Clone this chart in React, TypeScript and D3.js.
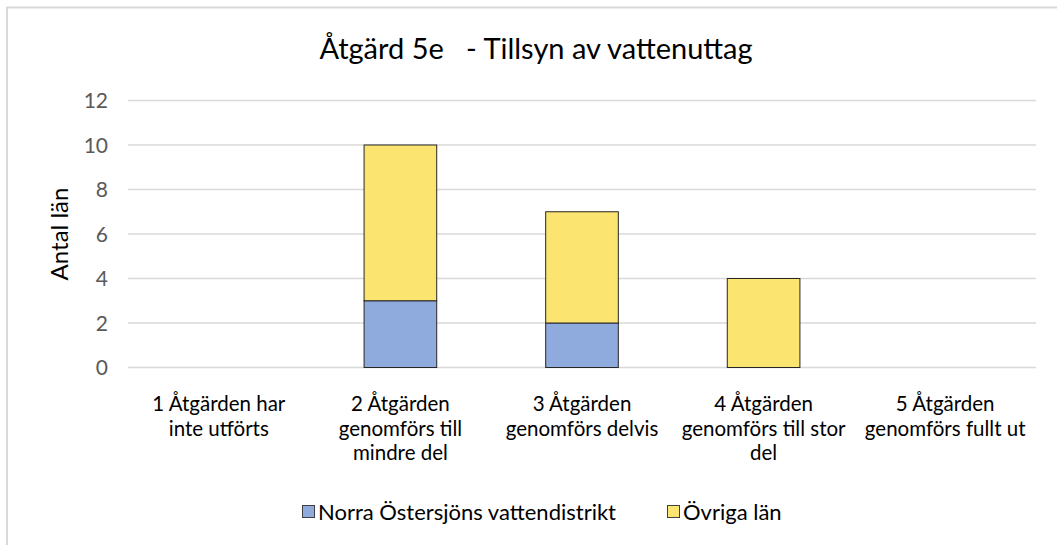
import React from "react";
import * as d3 from "d3";

const title = "Åtgärd 5e   - Tillsyn av vattenuttag";
const yAxisTitle = "Antal län";
const categories = [
  "1 Åtgärden har inte utförts",
  "2 Åtgärden genomförs till mindre del",
  "3 Åtgärden genomförs delvis",
  "4 Åtgärden genomförs till stor del",
  "5 Åtgärden genomförs fullt ut",
];
const categoryLines = [
  ["1 Åtgärden har", "inte utförts"],
  ["2 Åtgärden", "genomförs till", "mindre del"],
  ["3 Åtgärden", "genomförs delvis"],
  ["4 Åtgärden", "genomförs till stor", "del"],
  ["5 Åtgärden", "genomförs fullt ut"],
];
const seriesNames = ["Norra Östersjöns vattendistrikt", "Övriga län"];
const norra = [0, 3, 2, 0, 0];
const ovriga = [0, 7, 5, 4, 0];
const yTicks = [0, 2, 4, 6, 8, 10, 12];
const colors = ["#8FAADC", "#FBE470"];

const W = 1057;
const H = 545;
const FONT = "Lato, 'Noto Sans', sans-serif";

export default function App() {
  const x = d3
    .scaleBand<string>()
    .domain(categories)
    .range([128, 1036])
    .paddingInner(0.6)
    .paddingOuter(0.3);
  const y = d3.scaleLinear().domain([0, 12]).range([367.5, 100.5]);

  const rows = categories.map((c, i) => ({ cat: c, norra: norra[i], ovriga: ovriga[i] }));
  const stacked = d3.stack<any>().keys(["norra", "ovriga"])(rows);

  return (
    <div style={{ position: "absolute", left: 0, top: 0 }}>
      <svg width={W} height={H} style={{ display: "block" }}>
        <rect x={0} y={0} width={W} height={H} fill="#ffffff" />
        <line x1={6} y1={7.5} x2={W} y2={7.5} stroke="#d9d9d9" strokeWidth={2} />
        <line x1={7} y1={7} x2={7} y2={H} stroke="#d9d9d9" strokeWidth={2} />
        <text
          x={536}
          y={59}
          textAnchor="middle"
          fontFamily={FONT}
          fontSize={29}
          fill="#000000"
          style={{ whiteSpace: "pre" }}
        >
          {title}
        </text>
        {yTicks.map((t) => (
          <g key={t}>
            <line x1={128} x2={1036} y1={y(t)} y2={y(t)} stroke="#d9d9d9" strokeWidth={1.5} />
            <text
              x={108}
              y={y(t) + 7.5}
              textAnchor="end"
              fontFamily={FONT}
              fontSize={21}
              fill="#595959"
            >
              {t}
            </text>
          </g>
        ))}
        <text
          transform={`translate(68,234) rotate(-90)`}
          textAnchor="middle"
          fontFamily={FONT}
          fontSize={24}
          fill="#000000"
        >
          {yAxisTitle}
        </text>
        {stacked.map((s, si) =>
          s.map((d, i) => {
            const v = d[1] - d[0];
            if (v <= 0) return null;
            return (
              <rect
                key={`${si}-${i}`}
                x={x(categories[i])!}
                width={x.bandwidth()}
                y={y(d[1])}
                height={y(d[0]) - y(d[1])}
                fill={colors[si]}
                stroke="#262626"
                strokeWidth={1}
              />
            );
          })
        )}
        {categoryLines.map((lines, i) =>
          lines.map((l, j) => (
            <text
              key={`${i}-${j}`}
              x={x(categories[i])! + x.bandwidth() / 2}
              y={411 + j * 24.6}
              textAnchor="middle"
              fontFamily={FONT}
              fontSize={20.5}
              fill="#000000"
            >
              {l}
            </text>
          ))
        )}
        <g>
          <rect x={302.5} y={505.5} width={12} height={12} fill={colors[0]} stroke="#404040" strokeWidth={1} />
          <text x={318} y={519.5} fontFamily={FONT} fontSize={22} fill="#000000">
            {seriesNames[0]}
          </text>
          <rect x={667.5} y={505.5} width={12} height={12} fill={colors[1]} stroke="#404040" strokeWidth={1} />
          <text x={683} y={519.5} fontFamily={FONT} fontSize={22} fill="#000000">
            {seriesNames[1]}
          </text>
        </g>
      </svg>
    </div>
  );
}
